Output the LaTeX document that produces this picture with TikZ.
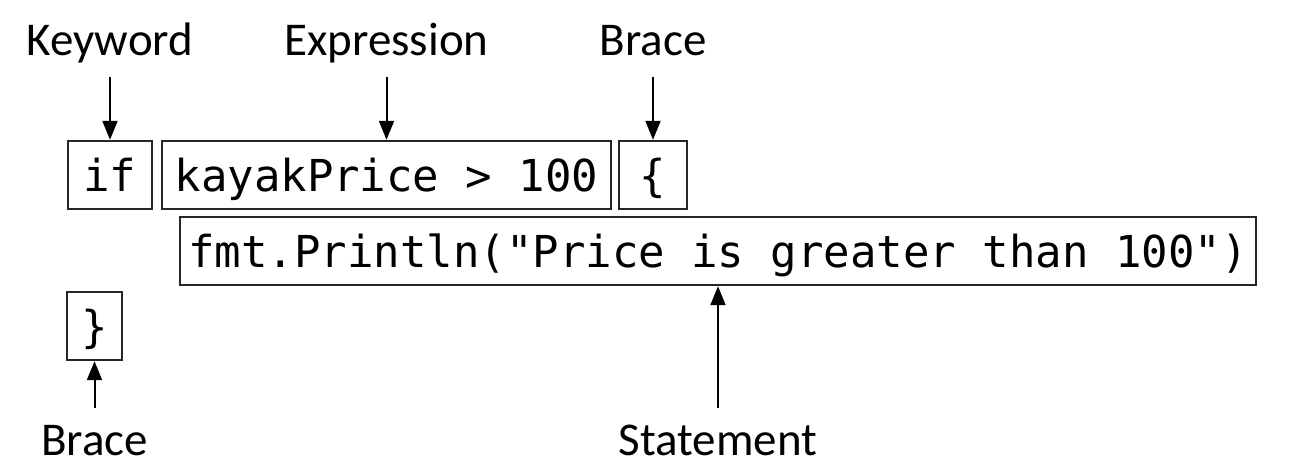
\documentclass[tikz,border=0pt]{standalone}
\usepackage{fontspec}
\setmainfont{Carlito}
\newfontfamily\codefont{DejaVu Sans Mono}
\usetikzlibrary{arrows.meta}
\begin{document}
\begin{tikzpicture}[x=1pt,y=-1pt,
  codebox/.style={draw=black!85, line width=2.4pt, inner sep=0pt, minimum height=68pt,
    text height=40pt, text depth=7pt, font=\codefont\fontsize{44pt}{50pt}\selectfont},
  lbl/.style={anchor=base, inner sep=0pt, text height=31pt, text depth=10pt,
    font=\fontsize{47pt}{56pt}\selectfont},
  arr/.style={-{Triangle[width=15pt,length=19pt]}, line width=2pt},
  tarr/.style={arr, shorten <=11pt},
  barr/.style={arr, shorten <=16pt}]
\useasboundingbox (0,0) rectangle (1314,476);
% code boxes
\node[codebox, minimum width=84pt]   (ifb)   at (110,175)   {if};
\node[codebox, minimum width=449pt]  (expr)  at (386.5,175) {kayakPrice > 100};
\node[codebox, minimum width=68pt]   (lbr)   at (653,175)   {\{};
\node[codebox, minimum width=1076pt] (stmt)  at (718,251)   {fmt.Println("Price is greater than 100")};
\node[codebox, minimum width=55pt]   (rbr)   at (94.5,326)  {\}};
% labels
\node[lbl] (lkw)   at (110,56)   {Keyword};
\node[lbl] (lexpr) at (386.5,56) {Expression};
\node[lbl] (llbr)  at (653,56)   {Brace};
\node[lbl] (lrbr)  at (94.5,455) {Brace};
\node[lbl] (lstmt) at (718,455)  {Statement};
% arrows
\draw[tarr] (lkw.south)   -- (ifb.north);
\draw[tarr] (lexpr.south) -- (expr.north);
\draw[tarr] (llbr.south)  -- (lbr.north);
\draw[barr] (lrbr.north)  -- (rbr.south);
\draw[barr] (lstmt.north) -- (stmt.south);
\end{tikzpicture}
\end{document}
